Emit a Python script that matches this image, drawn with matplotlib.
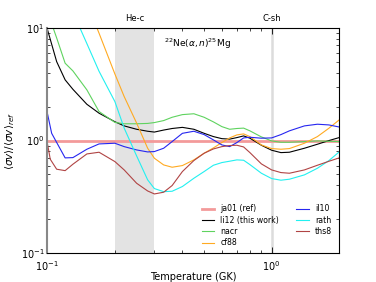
import numpy as np
import matplotlib
matplotlib.use("Agg")
import matplotlib.pyplot as plt
from matplotlib.ticker import NullFormatter

# Temperature grid (GK) and rate ratios
temp = [0.10, 0.11, 0.12, 0.13, 0.15, 0.17, 0.20, 0.22, 0.25, 0.28, 0.30, 0.33,
        0.36, 0.40, 0.45, 0.50, 0.55, 0.60, 0.65, 0.70, 0.75, 0.80, 0.90, 1.0,
        1.1, 1.2, 1.4, 1.6, 1.8, 2.0]

ja01 = [1.0] * len(temp)
li12 = [9.73, 5.02, 3.46, 2.85, 2.10, 1.75, 1.47, 1.35, 1.26, 1.21, 1.19, 1.24,
        1.28, 1.31, 1.26, 1.16, 1.085, 1.04, 1.03, 1.063, 1.10, 1.05, 0.909, 0.821,
        0.782, 0.788, 0.855, 0.928, 1.0, 1.063]
nacr = [14.0, 8.15, 4.86, 4.15, 2.82, 1.81, 1.45, 1.41, 1.41, 1.42, 1.445, 1.505,
        1.61, 1.70, 1.73, 1.61, 1.465, 1.33, 1.26, 1.28, 1.29, 1.22, 1.078, 0.993,
        0.966, 0.966, 0.98, 0.993, 0.986, 0.98]
cf88 = [80.0, 60.0, 45.0, 33.8, 16.6, 8.97, 3.9, 2.46, 1.43, 0.855, 0.697, 0.608,
        0.58, 0.60, 0.674, 0.772, 0.861, 0.96, 1.056, 1.123, 1.146, 1.085, 0.915, 0.849,
        0.838, 0.849, 0.947, 1.085, 1.287, 1.525]
rath = [40.0, 28.0, 20.0, 13.8, 7.26, 4.12, 2.22, 1.29, 0.731, 0.448, 0.375, 0.352,
        0.355, 0.391, 0.463, 0.531, 0.604, 0.638, 0.656, 0.674, 0.669, 0.612, 0.513, 0.46,
        0.445, 0.454, 0.496, 0.568, 0.664, 0.793]

temp_lo = [0.10, 0.1045] + temp[2:]
il10 = [1.75, 1.16, 0.702, 0.706, 0.838, 0.934, 0.947, 0.884, 0.826, 0.793, 0.799, 0.855,
        0.98, 1.16, 1.21, 1.13, 1.014, 0.915, 0.884, 0.96, 1.056, 1.07, 1.05, 1.056,
        1.13, 1.22, 1.35, 1.397, 1.377, 1.32]
temp_th = [0.10, 0.103, 0.11] + temp[2:]
ths8 = [0.947, 0.683, 0.557, 0.541, 0.617, 0.761, 0.788, 0.651, 0.549, 0.418, 0.357, 0.336,
        0.348, 0.399, 0.531, 0.665, 0.772, 0.843, 0.884, 0.903, 0.909, 0.878, 0.782, 0.621,
        0.549, 0.52, 0.513, 0.549, 0.604, 0.655, 0.702]

fig = plt.figure(figsize=(3.76, 2.82), dpi=100)
ax = fig.add_axes([0.126, 0.102, 0.776, 0.799])

# burning regimes
ax.axvspan(0.2, 0.3, color='#e3e3e3', lw=0, zorder=0)
ax.axvline(1.0, color='#dcdcdc', lw=1.8, zorder=0)

ax.plot(temp, ja01, color='#f39a9a', lw=2.0, label='ja01 (ref)')
ax.plot(temp, li12, color='black', lw=0.8, label='li12 (this work)')
ax.plot(temp, nacr, color='#5fd35f', lw=0.8, label='nacr')
ax.plot(temp, cf88, color='#ffaa22', lw=0.8, label='cf88')
ax.plot(temp_lo, il10, color='#2626f0', lw=0.8, label='il10')
ax.plot(temp, rath, color='#22f0f0', lw=0.8, label='rath')
ax.plot(temp_th, ths8, color='#b04444', lw=0.8, label='ths8')

ax.set_xscale('log')
ax.set_yscale('log')
ax.set_xlim(0.1, 2.0)
ax.set_ylim(0.1, 10)
ax.xaxis.set_minor_formatter(NullFormatter())
ax.yaxis.set_minor_formatter(NullFormatter())
ax.tick_params(which='both', direction='in', top=True, right=True, labelsize=7)
ax.tick_params(axis='x', which='both', pad=4.5)
ax.tick_params(axis='y', which='both', pad=2)
ax.tick_params(which='major', length=4, width=0.6)
ax.tick_params(which='minor', length=2, width=0.5)
for s in ax.spines.values():
    s.set_linewidth(0.8)
ax.spines['left'].set_color('#888888')
ax.spines['left'].set_linewidth(1.5)

ax.set_xlabel('Temperature (GK)', fontsize=7, labelpad=-1)
ax.set_ylabel(r'$\langle \sigma v \rangle / \langle \sigma v \rangle_{ref}$', fontsize=7.5, labelpad=3)

ax.text(0.245, 1.02, 'He-c', transform=ax.get_xaxis_transform(), ha='center', va='bottom', fontsize=6)
ax.text(1.0, 1.02, 'C-sh', transform=ax.get_xaxis_transform(), ha='center', va='bottom', fontsize=6)
ax.text(0.516, 0.93, r'$^{22}$Ne$(\alpha,n)^{25}$Mg', transform=ax.transAxes,
        ha='center', va='center', fontsize=6.5)

ax.legend(loc='lower right', ncol=2, frameon=False, fontsize=5.6, handlelength=1.6,
          columnspacing=2.2, labelspacing=0.3, bbox_to_anchor=(1.0, -0.005))

fig.savefig('out.png', dpi=100)
